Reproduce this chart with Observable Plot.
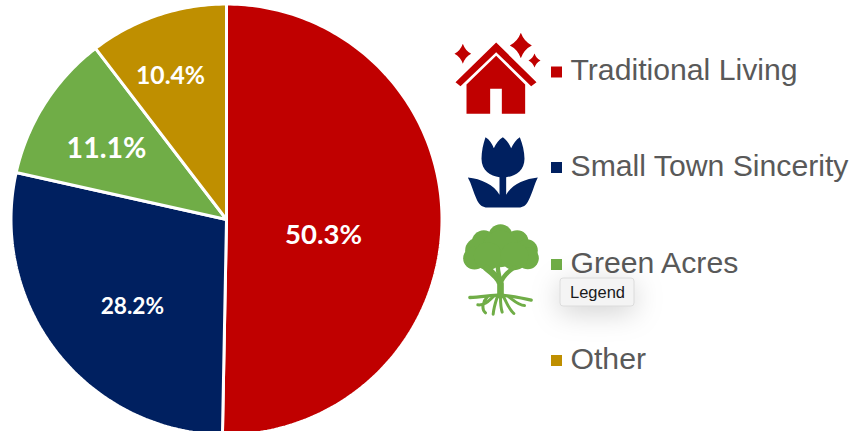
<!DOCTYPE html>
<html>
<head>
<meta charset="utf-8">
<script src="https://cdn.jsdelivr.net/npm/d3@7"></script>
<script src="https://cdn.jsdelivr.net/npm/@observablehq/plot@0.6"></script>
<style>
  html, body { margin: 0; padding: 0; background: #fff; overflow: hidden; }
</style>
</head>
<body>
<div id="chart"></div>
<script>
// Household segment shares, clockwise from twelve o'clock
const segments = ["Traditional Living", "Small Town Sincerity", "Green Acres", "Other"];
const shares = [50.3, 28.2, 11.1, 10.4];
const colors = ["#C00000", "#002060", "#70AD47", "#BF8F00"];

// Layout in page units
const W = 854, H = 431;
const center = [226, 219], R = 215.5;
const labelRadius = 0.65 * R;
const labelNudge = [[-43, 14], [16, 1], [-2, 5], [-11, -11]];
const labelSize = [27.5, 22.7, 28.5, 24.7];
const legendX = 556, legendRows = [71.5, 167, 264, 360];

// Pie geometry from the shares
const arcs = d3.pie().sort(null).value(d => d)(shares);
const polar = (a, r) => [center[0] + r * Math.sin(a), center[1] - r * Math.cos(a)];

const slices = arcs.flatMap((arc, i) => {
  const steps = Math.ceil((arc.endAngle - arc.startAngle) / (Math.PI / 180));
  const rim = d3.range(steps + 1).map(k =>
    polar(arc.startAngle + (arc.endAngle - arc.startAngle) * k / steps, R));
  return [center, ...rim, center].map(([x, y]) => ({x, y, segment: segments[i]}));
});

const labels = arcs.map((arc, i) => {
  const [x, y] = polar((arc.startAngle + arc.endAngle) / 2, labelRadius);
  return {
    x: x + labelNudge[i][0],
    y: y + labelNudge[i][1],
    text: shares[i].toFixed(1) + "%",
    size: labelSize[i]
  };
});

const legend = segments.map((segment, i) => ({segment, x: legendX, y: legendRows[i]}));

// Pictograms for the first three segments
const svgUri = (w, h, body) =>
  "data:image/svg+xml," + encodeURIComponent(
    `<svg xmlns="http://www.w3.org/2000/svg" viewBox="0 0 ${w} ${h}" width="${w}" height="${h}">${body}</svg>`);

const star = (x, y, rx, ry) => {
  const k = 0.3;
  return `M${x - rx},${y}Q${x - rx * k},${y - ry * k} ${x},${y - ry}Q${x + rx * k},${y - ry * k} ${x + rx},${y}Q${x + rx * k},${y + ry * k} ${x},${y + ry}Q${x - rx * k},${y + ry * k} ${x - rx},${y}Z`;
};

const houseIcon = svgUri(420, 300, `<g fill="#C00000">
  <path d="M167,66L288,185L272,197L167,95L60,197L45,185Z"/>
  <path d="M167,106L254,192V280H184V205H149V280H78V192Z"/>
  <path d="${star(67, 100, 25, 30)}"/>
  <path d="${star(241, 75, 33, 38)}"/>
  <path d="${star(282, 120, 18, 21)}"/>
</g>`);

const tulipIcon = svgUri(420, 270, `<path fill="#002060" d="M135,35C147,42 155,55 160,68C166,55 175,42 187,35C198,42 206,55 212,68C218,55 227,42 238,35C246,55 252,78 252,100C252,135 225,153 197,155V208C213,178 252,160 292,156C282,175 277,200 264,225C257,240 247,246 235,246H140C128,246 118,240 110,225C98,200 93,175 82,156C122,160 161,178 177,208V155C150,153 123,135 123,100C123,78 128,55 135,35Z"/>`);

const crown = [[150, 62, 36], [100, 80, 36], [200, 78, 34], [82, 105, 38], [228, 105, 34],
  [72, 128, 34], [232, 128, 33], [150, 100, 55], [112, 122, 42], [192, 122, 42]];
const treeIcon = svgUri(600, 330, `<g fill="#70AD47">
  ${crown.map(([x, y, r]) => `<circle cx="${x}" cy="${y}" r="${r}"/>`).join("")}
</g>
<g fill="none" stroke="#70AD47" stroke-linecap="round">
  <path stroke-width="20" d="M150,240V205C146,190 130,175 108,158"/>
  <path stroke-width="13" d="M150,205C148,185 142,170 142,155M150,205C155,185 170,170 192,155"/>
  <path stroke-width="10" d="M150,238C120,240 90,244 58,246M150,238C180,242 210,246 242,254"/>
  <path stroke-width="9" d="M130,242C115,255 105,270 82,268M110,245C100,255 90,280 105,292M140,245C135,260 130,275 128,296M150,245C150,260 152,280 155,290M160,245C168,262 175,280 190,294M175,244C190,255 205,270 222,270"/>
</g>`);

const chart = Plot.plot({
  width: W,
  height: H,
  margin: 0,
  style: {background: "#fff"},
  x: {axis: null, domain: [0, W]},
  y: {axis: null, domain: [H, 0]},
  color: {domain: segments, range: colors},
  marks: [
    // Pie slices
    Plot.line(slices, {
      x: "x", y: "y", z: "segment", fill: "segment",
      stroke: "#fff", strokeWidth: 3, strokeLinejoin: "miter", curve: "linear"
    }),
    // Share labels
    Plot.text(labels, {
      x: "x", y: "y", text: "text", fontSize: "size",
      fill: "#fff", fontWeight: 700, fontFamily: "Lato", textAnchor: "middle", lineAnchor: "middle"
    }),
    // Pictograms
    Plot.image([{x: 510, y: 70}], {x: "x", y: "y", width: 140, height: 100, src: () => houseIcon}),
    Plot.image([{x: 510, y: 170}], {x: "x", y: "y", width: 140, height: 90, src: () => tulipIcon}),
    Plot.image([{x: 550, y: 270}], {x: "x", y: "y", width: 200, height: 110, src: () => treeIcon}),
    // Legend keys and names
    Plot.dot(legend, {x: "x", y: "y", fill: "segment", symbol: "square", r: 6.2}),
    Plot.text(legend, {
      x: "x", y: "y", text: "segment", dx: 14, dy: -1.5,
      textAnchor: "start", lineAnchor: "middle",
      fill: "#595959", fontSize: 30.2, fontFamily: "Liberation Sans"
    }),
    // Hover tag resting on the legend
    Plot.rect([{x1: 560, x2: 634, y1: 278, y2: 306}], {
      x1: "x1", x2: "x2", y1: "y1", y2: "y2",
      fill: "#f4f4f4", stroke: "#dcdcdc", rx: 3,
      imageFilter: "drop-shadow(0 6px 14px rgba(0,0,0,0.18))"
    }),
    Plot.text([{x: 597, y: 292, text: "Legend"}], {
      x: "x", y: "y", text: "text",
      fill: "#1a1a1a", fontSize: 16.5, fontFamily: "Liberation Sans",
      textAnchor: "middle", lineAnchor: "middle"
    })
  ]
});

document.getElementById("chart").append(chart);
</script>
</body>
</html>
